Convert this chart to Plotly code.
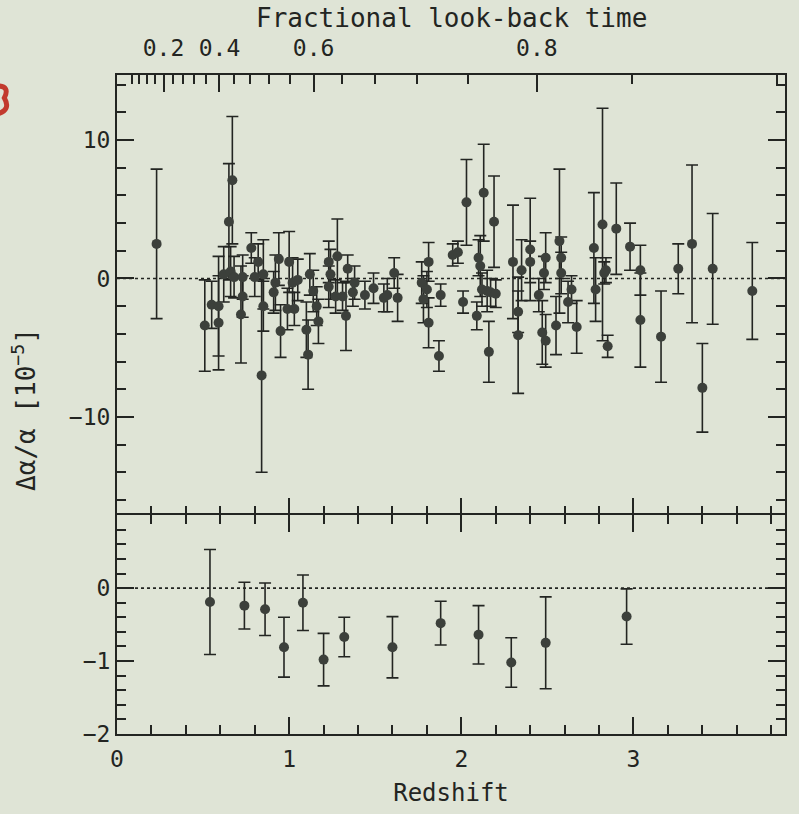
import numpy as np
import plotly.graph_objects as go

# ---------------- data ----------------
# upper panel: individual absorbers
z_abs = [0.23, 0.51, 0.55, 0.59, 0.59, 0.62, 0.65, 0.66, 0.67, 0.68, 0.72, 0.73, 0.73,
         0.78, 0.80, 0.82, 0.84, 0.85, 0.85, 0.91, 0.92, 0.94, 0.95, 0.99, 1.00, 1.02,
         1.03, 1.05, 1.10, 1.11, 1.12, 1.14, 1.16, 1.17, 1.23, 1.23, 1.24, 1.27, 1.28,
         1.31, 1.33, 1.34, 1.37, 1.38, 1.44, 1.49, 1.55, 1.57, 1.61, 1.63, 1.77, 1.78,
         1.80, 1.81, 1.81, 1.87, 1.88, 1.95, 1.98, 2.01, 2.03, 2.09, 2.10, 2.11, 2.12,
         2.13, 2.15, 2.16, 2.17, 2.19, 2.20, 2.30, 2.33, 2.33, 2.35, 2.40, 2.40, 2.45,
         2.47, 2.48, 2.49, 2.49, 2.55, 2.57, 2.58, 2.58, 2.62, 2.64, 2.67, 2.77, 2.78,
         2.82, 2.83, 2.84, 2.85, 2.90, 2.98, 3.04, 3.04, 3.16, 3.26, 3.34, 3.40, 3.46,
         3.69]
da_abs = [2.5, -3.4, -1.9, -3.2, -2.0, 0.3, 4.1, 0.5, 7.1, 0.1, -2.6, 0.1, -1.3,
          2.2, 0.1, 1.2, -7.0, 0.3, -2.0, -1.0, -0.3, 1.4, -3.8, -2.2, 1.2, -0.3,
          -2.2, -0.1, -3.7, -5.5, 0.3, -0.9, -2.0, -3.1, 1.2, -0.6, 0.3, -1.3, 1.6,
          -1.3, -2.7, 0.7, -1.0, -0.3, -1.2, -0.7, -1.4, -1.2, 0.4, -1.4, -0.3, -1.5,
          -0.8, 1.2, -3.2, -5.6, -1.2, 1.7, 1.9, -1.7, 5.5, -2.7, 1.5, 0.9, -0.8,
          6.2, -0.9, -5.3, -1.0, 4.1, -1.1, 1.2, -2.4, -4.1, 0.6, 2.1, 1.2, -1.2,
          -3.9, 0.4, 1.5, -4.5, -3.4, 2.7, 1.5, 0.4, -1.7, -0.8, -3.5, 2.2, -0.8,
          3.9, 0.4, 0.6, -4.9, 3.6, 2.3, 0.6, -3.0, -4.2, 0.7, 2.5, -7.9, 0.7,
          -0.9]
err_abs = [5.4, 3.3, 1.7, 3.4, 3.6, 2.0, 4.2, 1.8, 4.6, 1.5, 3.5, 1.6, 1.5,
           1.1, 1.4, 1.3, 7.0, 2.5, 1.8, 1.5, 2.0, 1.9, 1.9, 1.5, 2.2, 1.8,
           1.2, 1.5, 2.0, 2.5, 1.5, 1.5, 1.4, 1.6, 1.5, 1.5, 1.8, 1.2, 2.7,
           1.0, 2.5, 1.0, 1.0, 1.2, 1.0, 1.1, 1.0, 1.2, 1.1, 1.7, 1.5, 1.7,
           1.3, 1.4, 1.8, 1.1, 0.8, 0.8, 0.8, 0.8, 3.1, 1.0, 1.3, 2.2, 1.2,
           3.5, 1.5, 2.2, 1.0, 3.3, 1.0, 4.1, 1.5, 4.2, 2.2, 3.7, 1.5, 1.2,
           2.3, 1.2, 1.8, 1.9, 2.1, 5.2, 1.5, 1.5, 1.5, 1.0, 1.9, 4.0, 2.3,
           8.4, 0.8, 0.9, 0.8, 3.3, 1.7, 1.8, 3.4, 3.3, 1.8, 5.7, 3.2, 4.0,
           3.5]

# lower panel: binned values
z_bin = [0.54, 0.74, 0.86, 0.97, 1.08, 1.20, 1.32, 1.60, 1.88, 2.10, 2.29, 2.49, 2.96]
da_bin = [-0.19, -0.24, -0.29, -0.81, -0.20, -0.98, -0.67, -0.81, -0.48, -0.64, -1.02, -0.75, -0.39]
err_bin = [0.72, 0.32, 0.36, 0.41, 0.38, 0.36, 0.27, 0.42, 0.30, 0.40, 0.34, 0.63, 0.38]

# top axis: fractional look-back time
lookback_major = [0.2, 0.4, 0.6, 0.8]
lookback_labels = ["0.2", "0.4", "0.6", "0.8"]
lookback_minor = [0.04, 0.08, 0.12, 0.16, 0.24, 0.28, 0.32, 0.36, 0.44, 0.48, 0.52,
                  0.56, 0.64, 0.68, 0.72, 0.76, 0.84, 0.88]

# ------------- look-back fraction -> redshift (flat LCDM, Om=0.3) -------------
Om, OL = 0.3, 0.7
a = np.linspace(1e-8, 1.0, 200001)
integrand = np.sqrt(a) / np.sqrt(Om + OL * a ** 3)
t_a = np.concatenate([[0.0], np.cumsum(0.5 * (integrand[1:] + integrand[:-1]) * np.diff(a))])
t_a /= t_a[-1]


def z_of_lookback(f):
    aa = np.interp(1.0 - np.asarray(f), t_a, a)
    return (1.0 / aa - 1.0).tolist()


ZMAX = 3.88
TOP_SHIFT = 0.045   # the scanned frame is slightly skewed at the top edge
BG = "#dfe4d6"
INK = "#232522"
DOT = "#3c403b"
FONT = "DejaVu Sans Mono"

fig = go.Figure()
fig.add_trace(go.Scatter(
    x=z_abs, y=da_abs, mode="markers", xaxis="x", yaxis="y",
    marker=dict(size=10, color=DOT, line=dict(width=0)),
    error_y=dict(type="data", array=err_abs, color=INK, thickness=1.6, width=6),
    showlegend=False))
fig.add_trace(go.Scatter(
    x=z_bin, y=da_bin, mode="markers", xaxis="x2", yaxis="y2",
    marker=dict(size=10, color=DOT, line=dict(width=0)),
    error_y=dict(type="data", array=err_bin, color=INK, thickness=1.6, width=6),
    showlegend=False))
# invisible carrier so the look-back axis is drawn
fig.add_trace(go.Scatter(x=[0, ZMAX], y=[0, 0], mode="markers", xaxis="x3", yaxis="y",
                         marker=dict(opacity=0), hoverinfo="skip", showlegend=False))

# dotted zero lines
for yref, xref in (("y", "x"), ("y2", "x2")):
    fig.add_shape(type="line", xref=xref, yref=yref, x0=0, x1=ZMAX, y0=0, y1=0,
                  line=dict(color=INK, width=1.6, dash="dot"), layer="below")


# red scan mark at the left page edge (drawn as a stroke, it is not text)
def px(x):
    return (x - 117) / 670


def py(y):
    return (735 - y) / 660


fig.add_shape(type="path", xref="paper", yref="paper",
              path=(f"M {px(-3)},{py(86)} Q {px(10)},{py(86)} {px(4)},{py(98)} "
                    f"Q {px(11)},{py(110)} {px(-3)},{py(114)}"),
              line=dict(color="#c23a2e", width=5))

tick_font = dict(family=FONT, size=23, color=INK)
axis_common = dict(showgrid=False, zeroline=False, linecolor=INK,
                   linewidth=2, ticks="inside", tickcolor=INK, tickwidth=1.6,
                   ticklen=17, tickfont=tick_font)
minor_x = dict(tickmode="linear", tick0=0, dtick=0.2, ticks="inside",
               ticklen=9, tickcolor=INK, tickwidth=1.6)

split = 0.332
fig.update_layout(
    width=799, height=814,
    margin=dict(l=117, r=12, t=75, b=79),
    paper_bgcolor=BG, plot_bgcolor=BG,
    xaxis=dict(**axis_common, showline=False, domain=[0, 1], anchor="y",
               range=[0, ZMAX], tickmode="linear", tick0=0, dtick=1,
               showticklabels=False, minor=minor_x),
    xaxis2=dict(**axis_common, showline=True, domain=[0, 1], anchor="y2",
                range=[0, ZMAX], tickmode="linear", tick0=0, dtick=1,
                mirror="ticks", ticklabelstandoff=3,
                title=dict(text="Redshift", font=dict(family=FONT, size=24, color=INK),
                           standoff=14),
                minor=minor_x),
    xaxis3=dict(**axis_common, showline=True, overlaying="x", side="top", anchor="y",
                range=[-TOP_SHIFT, ZMAX - TOP_SHIFT], tickmode="array",
                tickvals=z_of_lookback(lookback_major), ticktext=lookback_labels,
                ticklabelstandoff=8,
                minor=dict(tickmode="array", tickvals=z_of_lookback(lookback_minor),
                           ticks="inside", ticklen=9, tickcolor=INK, tickwidth=1.6)),
    yaxis=dict(**axis_common, showline=True, domain=[split, 1], anchor="x",
               range=[-17.1, 14.7], tickmode="array", tickvals=[-10, 0, 10],
               mirror="ticks",
               minor=dict(tickmode="linear", tick0=0, dtick=2, ticks="inside",
                          ticklen=9, tickcolor=INK, tickwidth=1.6)),
    yaxis2=dict(**axis_common, showline=True, domain=[0, split], anchor="x2",
                range=[-2, 1], tickmode="array", tickvals=[-2, -1, 0], mirror="ticks",
                minor=dict(tickmode="linear", tick0=0, dtick=0.2, ticks="inside",
                           ticklen=9, tickcolor=INK, tickwidth=1.6)),
    annotations=[
        dict(text="Fractional look-back time", xref="paper", yref="paper",
             x=0.5, y=1.086, xanchor="center", yanchor="middle",
             showarrow=False, font=dict(family=FONT, size=26, color=INK)),
        dict(text="Δα/α [10<sup>−5</sup>]", xref="paper", yref="paper",
             x=-0.139, y=0.492, xanchor="center", yanchor="middle", textangle=-90,
             showarrow=False, font=dict(family=FONT, size=26, color=INK)),
    ],
)

fig.write_html("out.html")
